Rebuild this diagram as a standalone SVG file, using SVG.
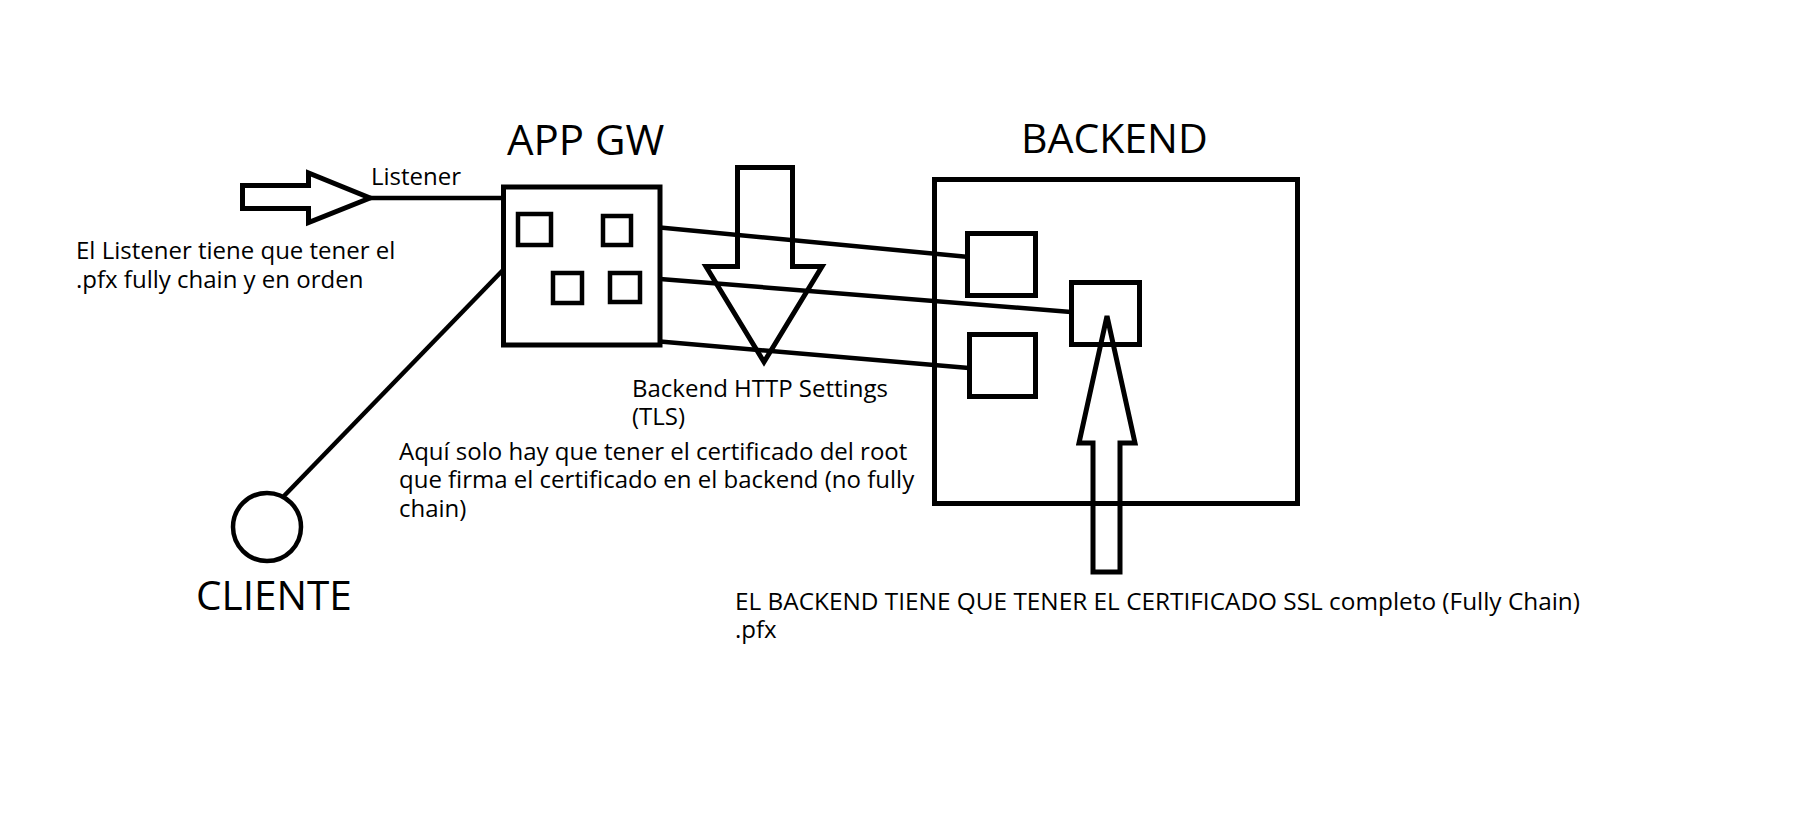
<svg xmlns="http://www.w3.org/2000/svg" width="1816" height="832" viewBox="0 0 1816 832">
<style>
  .box{fill:none;stroke:#000;stroke-width:5}
  .sq{fill:none;stroke:#000;stroke-width:4.5}
  .ln{fill:none;stroke:#000;stroke-width:4.5;stroke-linecap:butt}
  .arr{fill:none;stroke:#000;stroke-width:5;stroke-linejoin:miter}
  .t{font-family:"Open Sans","Liberation Sans",sans-serif;font-size:24px;fill:#000}
  .h{font-family:"Open Sans","Liberation Sans",sans-serif;font-size:42px;fill:#000}
</style>
<rect width="1816" height="832" fill="#fff"/>
<g id="connectors">
  <polygon class="arr" points="242.5,185.5 308.5,185.5 308.5,173 370,198 308.5,222.5 308.5,208.5 242.5,208.5"/>
  <line class="ln" x1="370" y1="198" x2="503" y2="198"/>
  <line class="ln" x1="660" y1="227.5" x2="969" y2="257"/>
  <line class="ln" x1="660" y1="279" x2="1071" y2="312"/>
  <line class="ln" x1="660" y1="341.5" x2="969" y2="368"/>
  <line class="ln" x1="504" y1="269" x2="283" y2="497"/>
  <polygon class="arr" points="737.5,167.5 792.5,167.5 792.5,266.5 822,266.5 764,362 706,266.5 737.5,266.5"/>
  <polygon class="arr" points="1107,316 1135,443 1120,443 1120,572 1093,572 1093,443 1079,443"/>
</g>
<g id="listener-label">
  <text class="t" x="371" y="185">Listener</text>
</g>
<g id="listener-note">
  <text class="t" x="76" y="259">El Listener tiene que tener el</text>
  <text class="t" x="76" y="288">.pfx fully chain y en orden</text>
</g>
<g id="appgw">
  <text class="h" x="507" y="155">APP GW</text>
  <rect class="box" x="503.5" y="187" width="156.5" height="158"/>
  <rect class="sq" x="518" y="214" width="33" height="31"/>
  <rect class="sq" x="603" y="216" width="28" height="29"/>
  <rect class="sq" x="553" y="273" width="29" height="30"/>
  <rect class="sq" x="610" y="273" width="30" height="29"/>
</g>
<g id="backend">
  <text class="h" x="1021" y="153" style="font-size:41px">BACKEND</text>
  <rect class="box" x="934.5" y="179.5" width="363" height="324"/>
  <rect class="box" x="967.5" y="233.5" width="68" height="62"/>
  <rect class="box" x="1071.5" y="282.5" width="68" height="62"/>
  <rect class="box" x="969.5" y="334.5" width="66" height="62"/>
</g>
<g id="cliente">
  <circle cx="267" cy="527" r="34" fill="none" stroke="#000" stroke-width="4.5"/>
  <text class="h" x="196" y="610" style="font-size:40.5px">CLIENTE</text>
</g>
<g id="http-settings">
  <text class="t" x="632" y="397">Backend HTTP Settings</text>
  <text class="t" x="632" y="425">(TLS)</text>
</g>
<g id="root-note">
  <text class="t" x="399" y="460">Aquí solo hay que tener el certificado del root</text>
  <text class="t" x="399" y="488">que firma el certificado en el backend (no fully</text>
  <text class="t" x="399" y="517">chain)</text>
</g>
<g id="backend-note">
  <text class="t" x="735" y="610" textLength="845" lengthAdjust="spacingAndGlyphs">EL BACKEND TIENE QUE TENER EL CERTIFICADO SSL completo (Fully Chain)</text>
  <text class="t" x="735" y="638">.pfx</text>
</g>
</svg>
